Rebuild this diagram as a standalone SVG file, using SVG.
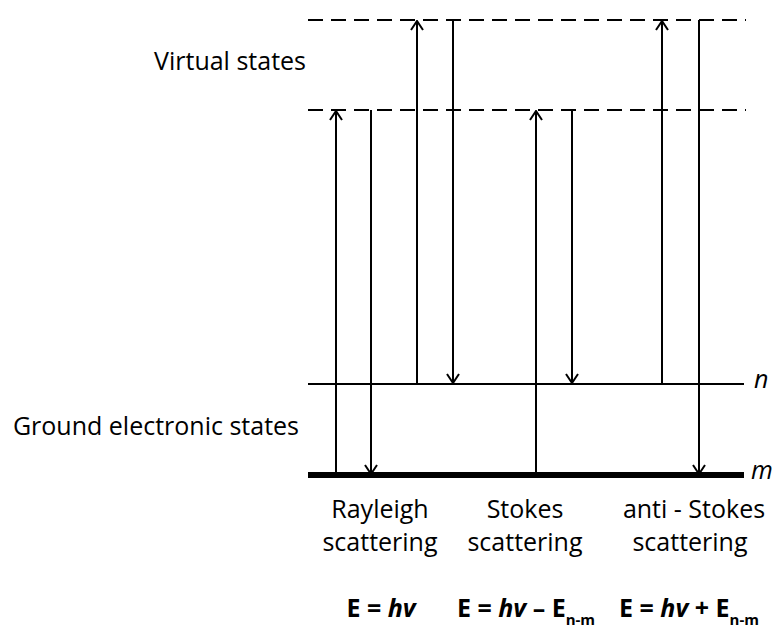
<svg xmlns="http://www.w3.org/2000/svg" width="776" height="628" viewBox="0 0 776 628">
<defs>
<style>
.lvl{stroke:#000;stroke-width:2;fill:none}
.dash{stroke:#000;stroke-width:2;stroke-dasharray:15 8;fill:none}
.ar{stroke:#000;stroke-width:2;fill:none;marker-end:url(#head)}
text{font-family:"Open Sans","Liberation Sans",sans-serif;fill:#000}
.lbl{font-size:25px}
.f{font-size:25px;font-weight:bold}
.sub{font-size:15px}
</style>
<marker id="head" viewBox="0 0 14 14" refX="13" refY="7" markerWidth="14" markerHeight="14" markerUnits="userSpaceOnUse" orient="auto">
<path d="M4,1 L13,7 L4,13" fill="none" stroke="#000" stroke-width="2"/>
</marker>
</defs>
<g id="levels">
<line class="dash" x1="308" y1="20" x2="746" y2="20"/>
<line class="dash" x1="308" y1="110" x2="746" y2="110"/>
<line class="lvl" x1="308" y1="384" x2="744" y2="384"/>
<line x1="308" y1="475" x2="744" y2="475" stroke="#000" stroke-width="6"/>
</g>
<g id="connectors">
<line class="ar" x1="336" y1="475" x2="336" y2="111"/>
<line class="ar" x1="371" y1="110" x2="371" y2="474"/>
<line class="ar" x1="417" y1="384" x2="417" y2="21"/>
<line class="ar" x1="453" y1="20" x2="453" y2="383"/>
<line class="ar" x1="536" y1="475" x2="536" y2="111"/>
<line class="ar" x1="572" y1="110" x2="572" y2="383"/>
<line class="ar" x1="662" y1="384" x2="662" y2="21"/>
<line class="ar" x1="699" y1="20" x2="699" y2="474"/>
</g>
<g id="labels">
<text class="lbl" x="306" y="70" text-anchor="end">Virtual states</text>
<text class="lbl" x="299" y="435" text-anchor="end">Ground electronic states</text>
<text class="lbl" x="754" y="388" font-style="italic">n</text>
<text class="lbl" x="751" y="479" font-style="italic" font-size="24">m</text>
</g>
<g id="rayleigh">
<text class="lbl" x="380" y="518" text-anchor="middle">Rayleigh</text>
<text class="lbl" x="380" y="551" text-anchor="middle">scattering</text>
<text class="f" x="381" y="617" text-anchor="middle">E = <tspan font-style="italic">hv</tspan></text>
</g>
<g id="stokes">
<text class="lbl" x="525" y="518" text-anchor="middle">Stokes</text>
<text class="lbl" x="525" y="551" text-anchor="middle">scattering</text>
<text class="f" x="526" y="617" text-anchor="middle">E = <tspan font-style="italic">hv</tspan> – E<tspan class="sub" dy="8">n-m</tspan></text>
</g>
<g id="antistokes">
<text class="lbl" x="694" y="518" text-anchor="middle">anti - Stokes</text>
<text class="lbl" x="690" y="551" text-anchor="middle">scattering</text>
<text class="f" x="689" y="617" text-anchor="middle">E = <tspan font-style="italic">hv</tspan> + E<tspan class="sub" dy="8">n-m</tspan></text>
</g>
</svg>
